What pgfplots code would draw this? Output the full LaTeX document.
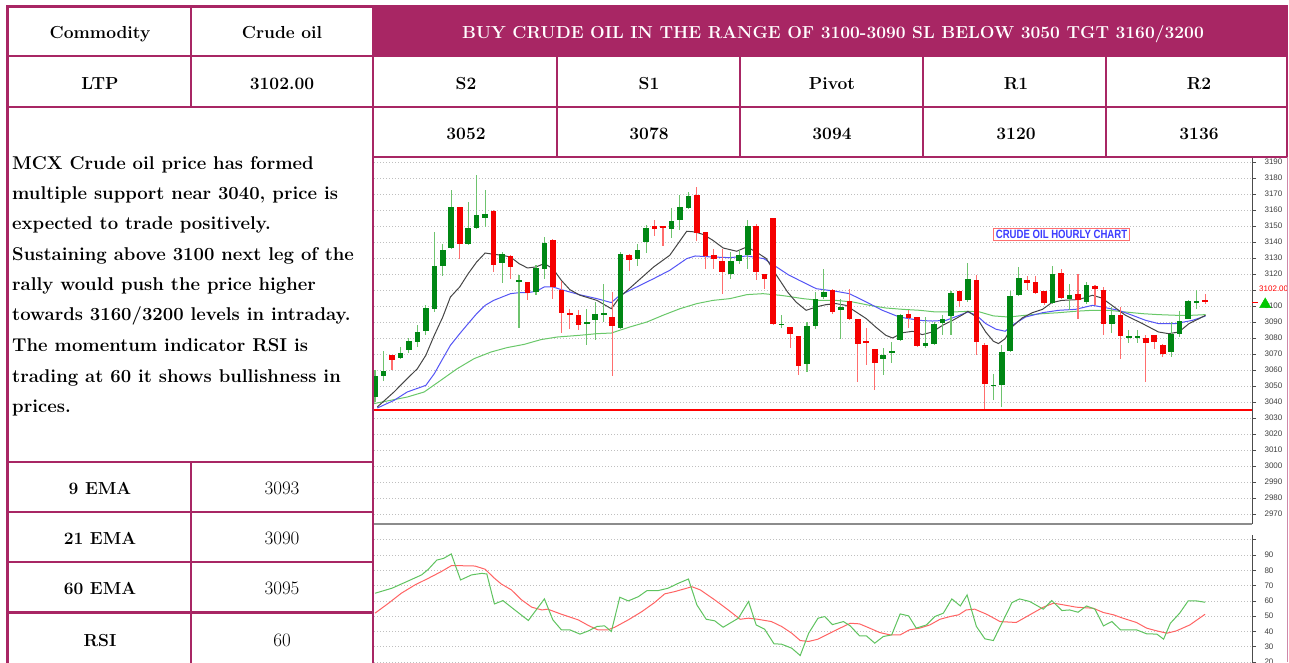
\documentclass[border=0pt]{standalone}
\usepackage{fontspec}
\usepackage{pgfplots}
\pgfplotsset{compat=1.18}
\usepackage{pgfplotstable}
\newfontfamily\arial{Liberation Sans}
\definecolor{mag}{RGB}{168,38,100}
\definecolor{cgreen}{RGB}{0,135,20}
\definecolor{cred}{RGB}{245,0,0}
\definecolor{wgreen}{RGB}{110,195,110}
\definecolor{wred}{RGB}{255,110,110}
\definecolor{emablack}{RGB}{70,70,70}
\definecolor{emablue}{RGB}{85,85,245}
\definecolor{emagreen}{RGB}{105,200,105}
\definecolor{rsigreen}{RGB}{95,195,95}
\definecolor{rsired}{RGB}{255,100,100}
\newcommand\cb{\bfseries\fontsize{17.4}{20}\selectfont}
\newcommand\cn{\fontsize{19}{22}\selectfont}
\newcommand\tb{\bfseries\fontsize{18.5}{30}\selectfont}

\pgfplotstableread{
i o h l c
0 3043 3060 3040 3056
1 3056.3 3071.7 3052.9 3059.6
3 3067.5 3074.4 3067 3070.8
4 3072.3 3080 3070.8 3077.9
5 3077.5 3088.3 3074.4 3083.75
6 3084.2 3100.4 3081.7 3099
7 3097.9 3146 3096 3124.8
8 3125 3139 3119 3134.8
9 3136.25 3172.3 3135.4 3161.9
11 3139 3165 3138.3 3148.75
12 3149 3181.7 3148 3157
13 3155 3172.3 3149.4 3157.7
15 3127 3133.75 3114.6 3132.3
17 3115.4 3119.6 3086.25 3116
19 3109 3125.4 3106.7 3123.75
20 3123.3 3143 3116.7 3139.6
25 3089 3098.3 3075.4 3090
26 3091 3102.5 3078.5 3095.2
27 3094.6 3114 3090 3095.6
29 3086.5 3133.75 3085.8 3132.7
31 3129.6 3139 3125 3134.8
32 3140 3150.8 3133.3 3149
35 3147.9 3161.5 3142.5 3153
36 3153.5 3169.6 3147.3 3161.9
37 3161.25 3171.25 3160.4 3168.75
42 3120.2 3133.75 3117 3127.9
43 3127.9 3134.8 3126.5 3131.7
44 3131.7 3153.5 3123.3 3149.8
48 3088.3 3094.6 3086.25 3088.75
51 3064 3090 3058.75 3087.3
52 3087.5 3108.75 3085.8 3104.6
53 3105.6 3123.3 3104.6 3108.75
55 3097.3 3104.6 3079.6 3099.4
60 3066.7 3074 3056.7 3069.6
61 3070.4 3077.5 3064.6 3071.7
62 3078.5 3094.8 3077.9 3094.2
65 3074.8 3093.1 3073.75 3077.1
66 3076.5 3090 3075.4 3088.5
67 3089.6 3094.2 3081.7 3092.1
68 3093.5 3109.2 3081.7 3108.1
70 3103.5 3126.9 3102.5 3117.1
73 3050 3057.7 3041 3050.8
74 3050.8 3075.4 3036.9 3071.25
75 3071.7 3109.2 3071.25 3106
76 3106.7 3124.4 3106.25 3117.5
80 3102.1 3124.8 3101.5 3119.8
82 3104.2 3114 3097.3 3107.1
84 3102.5 3115 3101.5 3112.9
87 3089 3099.4 3083.3 3094.2
89 3080.6 3084.8 3077.1 3081.25
90 3080.6 3084.8 3077.1 3081.25
94 3071.25 3090 3068.1 3082.7
95 3082.7 3096.7 3080.6 3090.6
96 3092.1 3104 3092 3103.1
97 3102.5 3109.8 3098.3 3102.9
}\uptab

\pgfplotstableread{
i o h l c
2 3069.6 3069.6 3059.8 3066.3
10 3161.9 3162 3129.6 3139
14 3159.4 3159.8 3121.25 3125.4
16 3131.25 3132 3116.7 3124.4
18 3115 3115 3103.5 3108.3
21 3141 3142 3104.6 3111.9
22 3109.8 3115.8 3083.3 3095.8
23 3095.8 3098 3085.8 3094.6
24 3094.2 3097.3 3084.8 3087.9
28 3093.1 3108.75 3056.25 3087.5
30 3132 3132.7 3121.7 3128.5
33 3149.8 3153.5 3144 3148.3
34 3149.8 3150 3137.5 3148.75
38 3169.6 3174.4 3140.4 3145.8
39 3146.25 3146.25 3123.3 3131.25
40 3131.7 3135.8 3123.3 3129.6
41 3127.9 3135.8 3107.7 3121.25
45 3149.8 3151.5 3116 3121.25
46 3120.2 3120.2 3110.8 3116.7
47 3155 3155 3087.9 3089
49 3086.9 3087 3073.75 3082.3
50 3081 3081 3057.1 3062.5
54 3109.8 3110.4 3095.2 3096.25
56 3103.1 3110.4 3091 3092.1
57 3091.7 3092.1 3052.5 3076.25
58 3077.9 3086.25 3063.3 3076.9
59 3072.9 3072.9 3047.3 3064.6
63 3095.2 3097.3 3086.25 3092.5
64 3092.9 3092.9 3074.4 3075
69 3109.2 3109.2 3099.4 3102.9
71 3116 3119.2 3069.2 3077.5
72 3075.8 3077.1 3035.8 3051.5
77 3116 3118.75 3109.8 3114.6
78 3115 3118.75 3107.7 3108.3
79 3109.2 3109.2 3100.4 3102.1
81 3120.8 3123.3 3104.6 3105
83 3107.7 3119.8 3092.1 3103.5
85 3112.3 3113.3 3100.4 3110.8
86 3110.2 3111.9 3082.1 3088.5
88 3094.2 3099.4 3066.7 3081.25
91 3080 3081.7 3052.5 3077.1
92 3081.7 3081.7 3073.3 3077.5
93 3075.8 3076.5 3068.1 3070.2
98 3103.5 3107.7 3101.5 3102.5
}\downtab

\begin{document}
\begin{tikzpicture}[x=1pt,y=1pt]
\path[use as bounding box] (0,0) rectangle (1289,-662);
\fill[white] (0,0) rectangle (1289,-662);

\begin{scope}
\clip (374,-158) rectangle (1289,-662);
\begin{axis}[at={(374pt,-157pt)}, anchor=north west, scale only axis,
  width=878pt, height=367pt, clip=false,
  xmin=-0.12, xmax=103.54, ymin=2963.75, ymax=3193.1,
  axis x line=bottom, axis y line=right, axis line style={-},
  x axis line style={draw=black!45, line width=1.3pt},
  y axis line style={draw=black!70, line width=1pt},
  xtick=\empty, ytick={2970,2980,...,3100,3120,3130,...,3190},
  extra y ticks={3110}, extra y tick labels={}, extra y tick style={ymajorgrids=true},
  tick align=outside, major tick length=4pt,
  tick style={black!70, line width=0.8pt},
  ymajorgrids, grid style={black!25, line width=0.8pt, dash pattern=on 1pt off 2pt},
  yticklabel style={font=\arial\fontsize{8}{9}\selectfont, text=black!75, xshift=5pt},
  /pgf/number format/set thousands separator={},
  /pgf/number format/assume math mode=true]
\addplot[red, line width=1.8pt] coordinates {(-0.12,3035) (103.54,3035)};
\addplot[emagreen, line width=1pt] coordinates {
(-0.12,3039) (3.8,3043.1) (5.8,3046.25) (7.75,3053.5) (9.7,3060.8) (11.7,3067.1) (13.7,3071.25) (15.6,3074) (17.6,3076) (19.6,3079) (21.5,3080.6) (24.2,3081.7) (26.2,3082.7) (27.9,3083.1) (30.1,3086.9) (32.1,3090) (34.0,3094.2) (36.0,3098.3) (38.0,3101.5) (39.9,3103.5) (41.9,3104.6) (43.9,3107.1) (45.8,3107.7) (47.8,3106.7) (48.8,3106) (50.5,3104.6) (52.5,3103.5) (54.4,3103.5) (56.4,3102.5) (58.4,3100.4) (60.3,3098.75) (62.3,3097.9) (64.3,3097.3) (66.2,3096.25) (68.2,3096.25) (70.2,3096.7) (71.4,3096.25) (73.0,3093.8) (74.8,3093.1) (76.8,3094.2) (78.8,3095.2) (80.7,3095.8) (82.7,3096.7) (84.7,3097.3) (86.6,3097.3) (88.6,3096.25) (90.6,3095.2) (92.5,3094.6) (94.5,3094.2) (96.5,3094.2) (98.05,3094.6)};
\addplot[emablue, line width=1pt] coordinates {
(0.27,3036.25) (2.24,3041) (3.8,3046.25) (6.0,3050.4) (7.0,3057.7) (8.0,3067.1) (8.9,3075.4) (10.0,3082.7) (11.0,3089) (12.0,3095.2) (13.0,3100.4) (14.0,3103.5) (15.0,3105.6) (16.0,3107.7) (17.0,3108.3) (18.0,3108.3) (19.0,3109.2) (20.0,3111.9) (21.0,3111.9) (22.0,3110.2) (23.0,3108.75) (24.2,3107) (26.2,3104.6) (27.9,3102.1) (28.9,3106.7) (30.9,3111.9) (32.9,3117.1) (34.8,3122.3) (36.8,3129.6) (37.8,3131.25) (39.9,3130.6) (41.9,3130.2) (43.9,3131.25) (45.9,3129.6) (47.4,3124.4) (48.8,3119.5) (50.1,3116) (52.1,3110.8) (54.4,3109.2) (56.0,3107.7) (58.0,3102.5) (59.9,3097.3) (61.9,3093.1) (64.3,3091) (65.8,3090.6) (67.4,3091) (69.0,3094.2) (70.0,3096.25) (71.0,3094.2) (72.1,3089) (73.3,3085.5) (74.4,3084.2) (75.2,3087.9) (76.8,3093.1) (78.8,3095.8) (80.7,3097.3) (82.7,3097.9) (84.7,3100.4) (85.8,3099.4) (87.8,3097.3) (89.4,3094.2) (91.0,3091) (92.5,3089) (94.5,3089) (96.5,3091) (98.05,3093.75)};
\addplot[emablack, line width=1pt] coordinates {
(0.27,3036.9) (2.24,3046.25) (3.8,3054.6) (5.0,3060.8) (6.0,3069.2) (7.0,3081.7) (8.0,3093.1) (8.9,3105.6) (10.0,3111.9) (11.0,3120.2) (12.0,3127.5) (13.0,3133.1) (14.0,3132.3) (15.0,3131.7) (16.0,3130.6) (17.0,3126.5) (18.0,3123.75) (19.0,3124.4) (20.0,3126.5) (21.0,3123.3) (22.0,3116) (23.0,3110.2) (24.2,3106.7) (26.2,3103.5) (27.9,3098.3) (28.9,3105.6) (30.9,3115) (32.9,3124.4) (34.8,3131.7) (36.8,3146.7) (37.8,3146.25) (38.8,3144.6) (39.9,3141) (41.1,3136.25) (42.7,3134.2) (43.9,3136.9) (45.0,3133.75) (46.2,3129.6) (47.4,3119.2) (48.7,3108.75) (49.7,3102.5) (50.9,3097.3) (52.1,3099.4) (53.2,3100.8) (54.4,3101.5) (55.6,3100.4) (56.8,3096.25) (58.0,3092.1) (59.1,3086.9) (60.3,3081.7) (61.1,3080) (62.3,3083.3) (63.5,3084.2) (64.6,3082.1) (65.8,3083.75) (67.0,3087.9) (68.2,3091) (69.4,3094.6) (70.0,3096.7) (71.0,3093.1) (72.1,3083.75) (73.0,3078) (73.6,3076.5) (74.4,3079.6) (75.2,3086.9) (76.4,3092.5) (77.6,3095.8) (78.8,3097.9) (79.9,3102.1) (81.1,3103.5) (83.1,3104) (84.7,3106.7) (85.8,3105) (87.0,3100.4) (88.6,3094.2) (90.6,3089) (92.5,3083.75) (93.7,3082.7) (94.9,3083.75) (96.1,3089) (97.3,3092.1) (98.05,3094.2)};
% wicks
\addplot[draw=none, mark=none, error bars/.cd, y dir=both, y explicit, error mark=none,
  error bar style={draw=wgreen, line width=1.1pt}]
  table[x=i, y expr={(\thisrow{h}+\thisrow{l})/2}, y error expr={(\thisrow{h}-\thisrow{l})/2}]{\uptab};
\addplot[draw=none, mark=none, error bars/.cd, y dir=both, y explicit, error mark=none,
  error bar style={draw=wred, line width=1.1pt}]
  table[x=i, y expr={(\thisrow{h}+\thisrow{l})/2}, y error expr={(\thisrow{h}-\thisrow{l})/2}]{\downtab};
% bodies
\addplot[draw=none, mark=none, error bars/.cd, y dir=both, y explicit, error mark=none,
  error bar style={draw=cgreen, line width=5.6pt}]
  table[x=i, y expr={(\thisrow{o}+\thisrow{c})/2}, y error expr={max(abs(\thisrow{c}-\thisrow{o})/2,0.45)}]{\uptab};
\addplot[draw=none, mark=none, error bars/.cd, y dir=both, y explicit, error mark=none,
  error bar style={draw=cred, line width=5.6pt}]
  table[x=i, y expr={(\thisrow{o}+\thisrow{c})/2}, y error expr={max(abs(\thisrow{c}-\thisrow{o})/2,0.45)}]{\downtab};
% last price marker
\addplot[red, line width=1pt] coordinates {(103.54,3102) (104.3,3102)};
\addplot[only marks, mark=triangle*, mark size=6.5pt, color={rgb,255:red,0;green,200;blue,0}] coordinates {(105.1,3101)};
\node[anchor=west, inner sep=0pt, text=red, font=\arial\fontsize{8}{9}\selectfont] at (axis cs:103.54,3110.6) [xshift=7pt] {3102.00};
\end{axis}
\end{scope}

\begin{axis}[at={(374pt,-535pt)}, anchor=north west, scale only axis,
  width=878pt, height=142.4pt,
  xmin=-0.12, xmax=103.54, ymin=10, ymax=103.07,
  axis x line=none, axis y line=right, axis line style={-},
  y axis line style={draw=black!70, line width=1pt},
  ytick={20,30,...,100}, yticklabels={20,30,40,50,60,70,80,90,{}},
  tick align=outside, major tick length=4pt,
  tick style={black!70, line width=0.8pt},
  ymajorgrids, grid style={black!25, line width=0.8pt, dash pattern=on 1pt off 2pt},
  yticklabel style={font=\arial\fontsize{8}{9}\selectfont, text=black!75, xshift=5pt},
  /pgf/number format/assume math mode=true]
\addplot[rsired, line width=1pt] coordinates {
(0,52) (1.6,58.5) (3.1,65) (4.7,70.4) (6.3,74.8) (7.8,79.1) (9.0,83) (10.2,83) (11.8,82.8) (13.0,80.7) (14.1,74.8) (14.9,71.1) (16.1,67.2) (17.3,60.7) (18.5,55.9) (19.7,54.1) (20.4,54.6) (22.0,51.3) (24.0,47.6) (25.2,43.9) (26.3,41.1) (27.5,41.1) (28.3,42.8) (29.9,47.6) (31.5,53) (33.0,58.9) (34.2,64.6) (35.4,66.1) (36.8,68.3) (37.4,69.3) (38.4,67.2) (40.1,60.7) (41.7,54.1) (43.1,48) (44.1,48.7) (45.2,48) (46.8,46.5) (48.0,43.3) (49.2,38.9) (50.2,34.1) (51.2,33.5) (52.3,35) (53.7,38.9) (54.9,42.2) (56.1,45.4) (57.2,45) (58.4,42.2) (59.6,39.3) (60.8,37.8) (62.0,37.8) (63.1,41.1) (64.3,42.2) (65.5,44.3) (66.7,48) (67.9,49.8) (68.9,50.9) (69.8,54.1) (70.8,54.6) (72.2,51.3) (73.8,46.5) (75.7,45.9) (77.3,50.9) (78.9,55.9) (80.1,58.5) (81.3,57.4) (82.8,55.9) (84.8,55.2) (86.0,52.4) (87.2,50.9) (88.3,48.7) (89.9,45.9) (91.1,42.2) (92.3,40.4) (93.5,38.9) (94.6,40.4) (96.2,44.3) (98.0,51.3)};
\addplot[rsigreen, line width=1pt] coordinates {
(0,65) (2,68.3) (3.9,73) (5.5,77) (6.3,80.7) (7.3,86.7) (8.1,87.8) (9.0,90.7) (10.1,73.7) (11.4,77) (12.6,78) (13.2,77.6) (14.1,58) (15.1,60.2) (16.5,54.1) (18.1,47.2) (20.0,61.3) (21.0,47.6) (22.0,41.1) (23.0,41.1) (24.2,38.3) (25.2,40.4) (26.2,43.3) (27.1,43.7) (27.9,40) (28.9,62.4) (29.9,60) (31.1,62.8) (32.1,66.7) (33.4,66.7) (34.6,68.3) (35.8,71.5) (37.0,74.3) (38.0,57.4) (39.1,48) (40.1,47) (41.1,42.8) (42.9,48.7) (44.1,59.6) (45.0,44.3) (46.0,41.5) (47.1,32) (48.0,31.7) (49.2,29.1) (50.2,24.3) (51.2,38.9) (52.3,48.7) (53.1,49.8) (54.0,44.5) (55.3,46.5) (56.1,43.7) (57.2,37.2) (58.0,37.2) (59.0,32.4) (60.0,36.7) (61.0,37.8) (62.0,51.5) (63.0,50.2) (63.9,42.2) (65.1,44.3) (66.1,49.8) (67.1,52) (68.1,61.3) (69.1,56.7) (69.9,63.9) (71.0,43.3) (72.0,35.2) (73.0,34.1) (74.2,47.6) (75.2,58.9) (76.1,61.3) (77.3,59.6) (78.9,54.6) (79.9,60.2) (81.1,53.7) (82.0,54.1) (83.0,52.6) (84.0,56.7) (85.0,54.6) (86.0,43.7) (87.0,46.5) (88.0,41.1) (89.9,41.1) (91.1,38.5) (92.3,38.3) (93.1,35) (93.9,45.4) (95.0,52) (96.0,60) (97.0,60) (98.0,59.1)};
\end{axis}

% chart title box
\node[draw={rgb,255:red,255;green,110;blue,110}, line width=1pt, fill=white, inner xsep=2pt, inner ysep=1.5pt,
  text={rgb,255:red,60;green,60;blue,255}] at (1061.5,-234.5)
  {\scalebox{0.8}[1]{\arial\bfseries\fontsize{12}{13}\selectfont CRUDE OIL HOURLY CHART}};

% table
\fill[mag] (373,-6.5) rectangle (1287,-56);
\begin{scope}[mag, line width=2.6pt, line cap=rect]
\draw (7.5,-662) -- (7.5,-6.5) -- (1287,-6.5) -- (1287,-157);
\draw (7.5,-56) -- (1287,-56);
\draw (7.5,-107) -- (1287,-107);
\draw (373,-157) -- (1287,-157);
\draw (191,-6.5) -- (191,-107);
\draw (191,-462) -- (191,-662);
\draw (7.5,-462) -- (373,-462);
\draw (7.5,-512) -- (373,-512);
\draw (7.5,-562) -- (373,-562);
\draw (7.5,-612.5) -- (373,-612.5);
\draw (373,-6.5) -- (373,-662);
\draw (557,-56) -- (557,-157);
\draw (740,-56) -- (740,-157);
\draw (923,-56) -- (923,-157);
\draw (1106,-56) -- (1106,-157);
\end{scope}
\draw[mag!55, line width=1pt] (1287,-157) -- (1287,-662);

\begin{scope}[every node/.style={inner sep=0pt, anchor=base}]
\node at (100,-38) {\cb Commodity};
\node at (282,-38) {\cb Crude oil};
\node at (100,-89) {\cb LTP};
\node at (282,-89) {\cb 3102.00};
\node[text=white] at (833,-38) {\cb BUY CRUDE OIL IN THE RANGE OF 3100-3090 SL BELOW 3050 TGT 3160/3200};
\node at (466,-89) {\cb S2};
\node at (649,-89) {\cb S1};
\node at (832,-89) {\cb Pivot};
\node at (1016,-89) {\cb R1};
\node at (1199,-89) {\cb R2};
\node at (466,-139) {\cb 3052};
\node at (649,-139) {\cb 3078};
\node at (832,-139) {\cb 3094};
\node at (1016,-139) {\cb 3120};
\node at (1199,-139) {\cb 3136};
\node at (100,-494) {\cb 9 EMA};
\node at (282,-494) {\cn 3093};
\node at (100,-544) {\cb 21 EMA};
\node at (282,-544) {\cn 3090};
\node at (100,-594) {\cb 60 EMA};
\node at (282,-594) {\cn 3095};
\node at (100,-646) {\cb RSI};
\node at (282,-646) {\cn 60};
\end{scope}
\begin{scope}[every node/.style={inner sep=0pt, anchor=base west}]
\node at (12,-169) {\tb MCX Crude oil price has formed};
\node at (12,-199) {\tb multiple support near 3040, price is};
\node at (12,-229) {\tb expected to trade positively.};
\node at (12,-260) {\tb Sustaining above 3100 next leg of the};
\node at (12,-290) {\tb rally would push the price higher};
\node at (12,-320) {\tb towards 3160/3200 levels in intraday.};
\node at (12,-351) {\tb The momentum indicator RSI is};
\node at (12,-382) {\tb trading at 60 it shows bullishness in};
\node at (12,-412) {\tb prices.};
\end{scope}
\end{tikzpicture}
\end{document}
